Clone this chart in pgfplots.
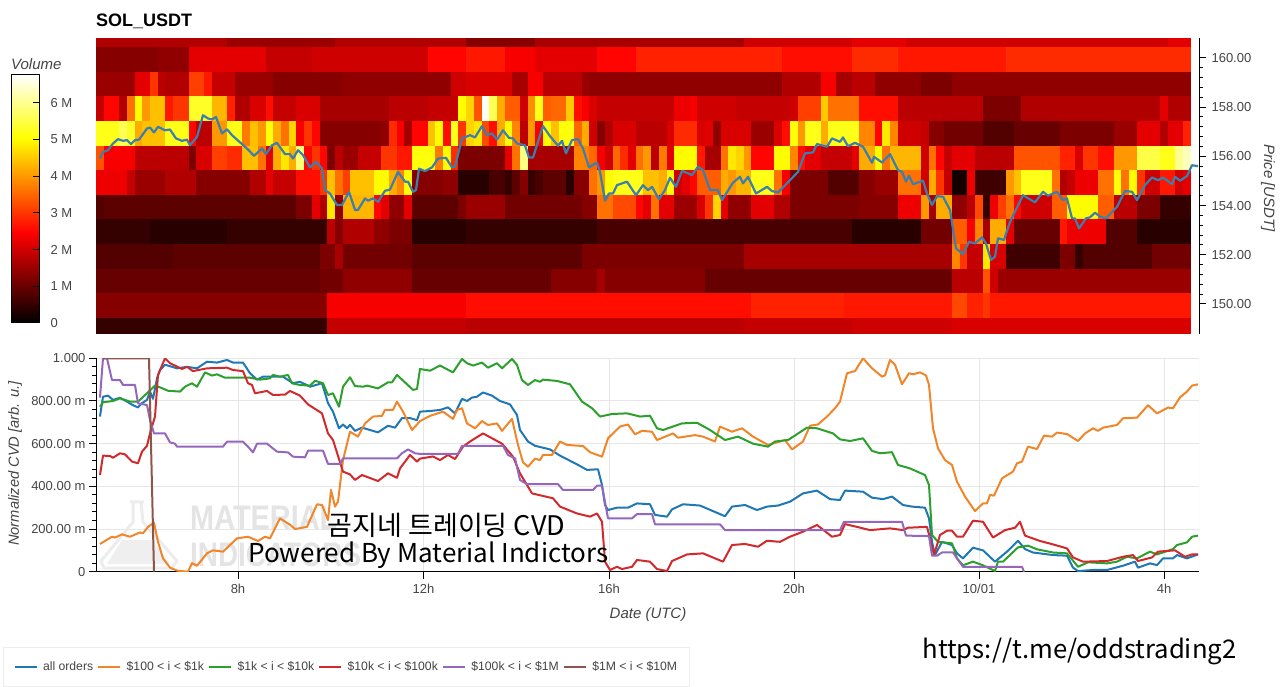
\documentclass[border=0pt]{standalone}
\usepackage{pgfplots}
\usepackage{pgfplotstable}
\pgfplotsset{compat=1.18}
\usepackage{fontspec}
\setmainfont{Liberation Sans}
\newfontfamily\kr{Noto Sans CJK KR}
\definecolor{tickgray}{HTML}{444444}
\definecolor{gridc}{HTML}{E6E6E6}
\definecolor{cblue}{HTML}{1F77B4}
\definecolor{corange}{HTML}{F0852A}
\definecolor{cgreen}{HTML}{2CA02C}
\definecolor{cred}{HTML}{D02A2C}
\definecolor{cpurple}{HTML}{9467BD}
\definecolor{cbrown}{HTML}{8C564B}
\definecolor{pricec}{HTML}{3C7FAE}
\definecolor{wm}{HTML}{E4E4E4}
\newcommand{\fsz}[1]{\fontsize{#1}{#1}\selectfont}
\pgfdeclareplotmark{cell}{%
  \pgfpathrectangle{\pgfpoint{0pt}{-\cellhh pt}}{\pgfpoint{\cellw pt}{2*\cellhh pt}}%
  \pgfusepathqfill}
\pgfplotstableread{
i w p v
0 17 160.62 17
17 14 160.62 15
31 17 160.62 17
48 9 160.62 13
57 27 160.62 16
84 14 160.62 20
98 7 160.62 22
105 34 160.62 20
139 3 160.62 22
0 8 159.93 13
8 4 159.93 14
12 10 159.93 22
22 6 159.93 19
28 15 159.93 20
43 5 159.93 25
48 5 159.93 27
53 4 159.93 24
57 8 159.93 22
65 5 159.93 25
70 19 159.93 28
89 9 159.93 26
98 6 159.93 29
104 14 159.93 27
118 24 159.93 29
0 5 158.93 15
5 2 158.93 22
7 1 158.93 30
8 1 158.93 18
9 3 158.93 17
12 2 158.93 31
14 1 158.93 27
15 3 158.93 19
18 5 158.93 15
23 9 158.93 13
32 14 158.93 14
46 2 158.93 20
48 6 158.93 21
54 2 158.93 16
56 2 158.93 24
58 5 158.93 18
63 1 158.93 15
64 25 158.93 14
89 5 158.93 17
94 2 158.93 24
96 2 158.93 16
98 3 158.93 18
101 6 158.93 14
107 4 158.93 12
111 31 158.93 14
0 1 157.93 19
1 2 157.93 25
3 1 157.93 17
4 1 157.93 36
5 1 157.93 50
6 1 157.93 40
7 2 157.93 44
9 1 157.93 27
10 2 157.93 30
12 3 157.93 53
15 2 157.93 43
17 1 157.93 28
18 2 157.93 17
20 2 157.93 21
22 1 157.93 26
23 3 157.93 19
26 3 157.93 21
29 9 157.93 16
38 5 157.93 18
43 4 157.93 19
47 1 157.93 50
48 1 157.93 46
49 1 157.93 33
50 1 157.93 67
51 1 157.93 56
52 1 157.93 42
53 2 157.93 34
55 1 157.93 20
56 1 157.93 39
57 1 157.93 52
58 1 157.93 34
59 2 157.93 35
61 1 157.93 45
62 1 157.93 26
63 1 157.93 24
64 1 157.93 21
65 10 157.93 19
75 2 157.93 23
77 1 157.93 24
78 5 157.93 20
83 7 157.93 19
90 1 157.93 20
91 3 157.93 31
94 1 157.93 45
95 4 157.93 36
99 5 157.93 26
104 11 157.93 18
115 5 157.93 12
120 18 157.93 17
138 1 157.93 22
139 3 157.93 17
0 3 156.93 52
3 1 156.93 56
4 1 156.93 53
5 1 156.93 42
6 3 156.93 44
9 3 156.93 52
12 1 156.93 25
13 2 156.93 18
15 2 156.93 40
17 2 156.93 52
19 1 156.93 37
20 1 156.93 44
21 1 156.93 40
22 1 156.93 51
23 1 156.93 42
24 1 156.93 36
25 1 156.93 46
26 1 156.93 24
27 1 156.93 30
28 1 156.93 25
29 8 156.93 13
37 1 156.93 14
38 1 156.93 29
39 1 156.93 24
40 1 156.93 16
41 2 156.93 25
43 1 156.93 44
44 1 156.93 50
45 1 156.93 26
46 1 156.93 52
47 1 156.93 30
48 1 156.93 46
49 1 156.93 48
50 1 156.93 32
51 1 156.93 26
52 1 156.93 42
53 1 156.93 50
54 1 156.93 38
55 1 156.93 18
56 1 156.93 40
57 1 156.93 24
58 1 156.93 50
59 1 156.93 44
60 2 156.93 51
62 1 156.93 35
63 1 156.93 42
64 1 156.93 20
65 1 156.93 13
66 1 156.93 17
67 3 156.93 21
70 4 156.93 18
74 1 156.93 21
75 3 156.93 29
78 1 156.93 21
79 1 156.93 22
80 1 156.93 14
81 4 156.93 21
85 3 156.93 15
88 1 156.93 21
89 1 156.93 26
90 1 156.93 51
91 1 156.93 40
92 2 156.93 52
94 1 156.93 42
95 4 156.93 52
99 2 156.93 38
101 1 156.93 25
102 1 156.93 48
103 1 156.93 38
104 3 156.93 20
107 1 156.93 19
108 2 156.93 13
110 5 156.93 11
115 4 156.93 8
119 6 156.93 10
125 7 156.93 12
132 3 156.93 15
135 3 156.93 22
138 1 156.93 17
139 2 156.93 22
141 1 156.93 28
0 1 155.93 33
1 4 155.93 24
5 7 155.93 18
12 1 155.93 12
13 2 155.93 21
15 2 155.93 31
17 2 155.93 29
19 2 155.93 44
21 1 155.93 36
22 1 155.93 22
23 1 155.93 42
24 1 155.93 48
25 1 155.93 42
26 1 155.93 58
27 1 155.93 25
28 1 155.93 30
29 1 155.93 25
30 1 155.93 12
31 1 155.93 18
32 2 155.93 15
34 3 155.93 19
37 2 155.93 30
39 2 155.93 27
41 3 155.93 51
44 1 155.93 37
45 1 155.93 50
46 1 155.93 29
47 6 155.93 12
53 1 155.93 22
54 1 155.93 36
55 1 155.93 59
56 6 155.93 16
62 2 155.93 38
64 1 155.93 35
65 1 155.93 24
66 1 155.93 20
67 1 155.93 35
68 1 155.93 29
69 1 155.93 22
70 1 155.93 36
71 1 155.93 40
72 1 155.93 18
73 1 155.93 37
74 1 155.93 22
75 3 155.93 50
78 1 155.93 27
79 2 155.93 16
81 1 155.93 36
82 1 155.93 48
83 1 155.93 46
84 1 155.93 40
85 3 155.93 25
88 2 155.93 50
90 1 155.93 38
91 1 155.93 26
92 2 155.93 22
94 4 155.93 19
98 1 155.93 22
99 2 155.93 42
101 1 155.93 50
102 1 155.93 36
103 4 155.93 43
107 1 155.93 20
108 1 155.93 36
109 1 155.93 25
110 1 155.93 19
111 3 155.93 22
114 5 155.93 18
119 6 155.93 33
125 2 155.93 28
127 1 155.93 21
128 2 155.93 30
130 2 155.93 26
132 3 155.93 40
135 3 155.93 55
138 2 155.93 52
140 1 155.93 60
141 1 155.93 63
0 4 154.93 23
4 1 154.93 19
5 4 154.93 15
9 4 154.93 17
13 7 154.93 13
20 2 154.93 17
22 1 154.93 22
23 3 154.93 19
26 3 154.93 26
29 1 154.93 30
30 1 154.93 44
31 1 154.93 36
32 1 154.93 31
33 3 154.93 44
36 2 154.93 50
38 1 154.93 42
39 1 154.93 38
40 1 154.93 50
41 4 154.93 13
45 2 154.93 14
47 4 154.93 4
51 2 154.93 7
53 1 154.93 5
54 1 154.93 9
55 1 154.93 13
56 1 154.93 5
57 1 154.93 7
58 3 154.93 9
61 1 154.93 4
62 2 154.93 13
64 1 154.93 36
65 1 154.93 40
66 1 154.93 50
67 4 154.93 52
71 2 154.93 44
73 1 154.93 42
74 1 154.93 50
75 1 154.93 20
76 1 154.93 22
77 1 154.93 25
78 3 154.93 34
81 1 154.93 42
82 1 154.93 40
83 2 154.93 43
85 3 154.93 52
88 1 154.93 36
89 1 154.93 24
90 5 154.93 12
95 4 154.93 8
99 2 154.93 13
101 3 154.93 15
104 3 154.93 36
107 1 154.93 20
108 1 154.93 42
109 1 154.93 30
110 1 154.93 19
111 2 154.93 2
113 1 154.93 23
114 4 154.93 6
118 1 154.93 40
119 1 154.93 44
120 4 154.93 52
124 1 154.93 36
125 1 154.93 17
126 1 154.93 19
127 3 154.93 23
130 2 154.93 36
132 1 154.93 51
133 1 154.93 36
134 1 154.93 50
135 1 154.93 30
136 2 154.93 20
138 2 154.93 27
140 1 154.93 20
141 1 154.93 22
0 1 153.93 8
1 25 153.93 9
26 2 153.93 12
28 1 153.93 22
29 1 153.93 17
30 1 153.93 48
31 1 153.93 14
32 4 153.93 43
36 1 153.93 25
37 1 153.93 22
38 2 153.93 14
40 1 153.93 22
41 6 153.93 9
47 1 153.93 12
48 5 153.93 15
53 10 153.93 11
63 2 153.93 13
65 2 153.93 36
67 3 153.93 32
70 1 153.93 25
71 1 153.93 22
72 1 153.93 36
73 2 153.93 22
75 3 153.93 15
78 1 153.93 21
79 1 153.93 30
80 1 153.93 46
81 1 153.93 22
82 3 153.93 14
85 3 153.93 22
88 2 153.93 17
90 9 153.93 12
99 5 153.93 13
104 3 153.93 23
107 1 153.93 40
108 1 153.93 16
109 2 153.93 42
111 2 153.93 14
113 1 153.93 18
114 1 153.93 32
115 1 153.93 5
116 1 153.93 23
117 1 153.93 31
118 1 153.93 36
119 1 153.93 25
120 4 153.93 20
124 2 153.93 34
126 4 153.93 50
130 2 153.93 34
132 3 153.93 18
135 3 153.93 12
138 4 153.93 5
0 7 152.93 5
7 10 152.93 4
17 13 152.93 5
30 1 152.93 18
31 1 152.93 13
32 4 152.93 17
36 2 152.93 14
38 3 152.93 12
41 7 152.93 4
48 17 152.93 5
65 33 152.93 7
98 9 152.93 4
107 4 152.93 11
111 2 152.93 34
113 1 152.93 24
114 1 152.93 38
115 1 152.93 16
116 2 152.93 42
118 1 152.93 22
119 6 152.93 10
125 1 152.93 27
126 5 152.93 23
131 4 152.93 8
135 7 152.93 4
0 10 151.93 8
10 19 151.93 9
29 2 151.93 12
31 1 151.93 16
32 9 151.93 11
41 22 151.93 9
63 21 151.93 12
84 27 151.93 16
111 1 151.93 38
112 1 151.93 30
113 2 151.93 19
115 1 151.93 48
116 2 151.93 21
118 7 151.93 6
125 2 151.93 12
127 1 151.93 5
128 9 151.93 8
137 5 151.93 11
0 29 150.93 10
29 3 150.93 11
32 9 150.93 14
41 18 150.93 10
59 6 150.93 13
65 1 150.93 16
66 13 150.93 13
79 32 150.93 10
111 4 150.93 18
115 1 150.93 33
116 1 150.93 20
117 25 150.93 15
0 30 149.93 13
30 18 149.93 24
48 37 149.93 26
85 12 149.93 28
97 14 149.93 27
111 2 149.93 32
113 2 149.93 28
115 1 149.93 30
116 26 149.93 27
0 30 149.105 5
30 18 149.105 19
48 36 149.105 18
84 14 149.105 19
98 13 149.105 20
111 31 149.105 21
}\heatcells
\begin{document}
\begin{tikzpicture}[line join=round]
\path[use as bounding box] (0,0) rectangle (1280pt,686pt);
% watermark
\begin{scope}
\draw[wm!70!white,line width=3pt] (130pt,184pt) -- (144pt,184pt) (133pt,184pt) -- (133pt,164pt) -- (101pt,125pt) -- (104pt,118pt) -- (172pt,118pt) -- (177pt,125pt) -- (143pt,164pt) -- (141pt,184pt);
\fill[wm!60!white] (122pt,146pt) -- (152pt,146pt) -- (170pt,122pt) -- (107pt,122pt) -- cycle;
\node[anchor=west,text=wm,inner sep=0pt,font=\bfseries\fsz{34}] at (190pt,168pt) {\scalebox{0.85}[1]{MATERIAL}};
\node[anchor=west,text=wm,inner sep=0pt,font=\bfseries\fsz{34}] at (190pt,131pt) {\scalebox{0.82}[1]{INDICATORS}};
\end{scope}
% heatmap
\begin{axis}[
  at={(96pt,352pt)},anchor=south west,scale only axis,width=1103pt,height=296pt,
  xmin=96,xmax=1199,ymin=148.78,ymax=160.81,
  axis x line=none,axis y line*=right,axis line style={-,black,line width=1pt},
  xtick=\empty,ytick={150,152,...,160},
  yticklabels={150.00,152.00,154.00,156.00,158.00,160.00},
  minor y tick num=4,tick align=outside,tickwidth=7pt,subtickwidth=4pt,
  every tick/.append style={black,line width=1pt},
  yticklabel style={font=\fsz{13},text=tickgray,xshift=2pt},
  colormap={hotx}{rgb(0pt)=(0,0,0) rgb(365pt)=(1,0,0) rgb(746pt)=(1,1,0) rgb(1000pt)=(1,1,1)},
  point meta min=0,point meta max=67.5,
]
\addplot[scatter,only marks,mark=cell,scatter src=explicit,
  visualization depends on={7.71*\thisrow{w}+0.6 \as \cellw},
  visualization depends on={ifthenelse(\thisrow{p}>160.5,4.75,ifthenelse(\thisrow{p}<149.5,8.1,12.4)) \as \cellhh}]
  table[x expr=96+7.71*\thisrow{i},y=p,meta=v]{\heatcells};
\end{axis}
% price line above the heatmap
\begin{axis}[
  at={(96pt,352pt)},anchor=south west,scale only axis,width=1103pt,height=296pt,
  xmin=96,xmax=1199,ymin=148.78,ymax=160.81,hide axis,
]
\addplot[pricec,line width=2.2pt,no marks] coordinates {
(100,155.91)(103,156.18)(108,156.25)(113,156.52)(118,156.70)(123,156.63)(127,156.66)(131,156.50)(135,156.66)(139,156.68)(147,157.13)(150,157.17)(154,156.97)(158,157.20)(165,157.06)(170,157.09)(176,156.73)(182,156.63)(187,156.68)(190,156.45)(197,156.79)(203,157.67)(208,157.54)(212,157.50)(216,157.6)(222,156.93)(227,157.1)(232,156.86)(248,156.28)(254,156.02)(262,156.32)(266,156.09)(272,156.45)(277,156.55)(285,156.09)(290,156.09)(293,155.91)(298,156.25)(303,156.05)(310,155.55)(316,155.78)(322,155.51)(325,154.63)(330,154.49)(337,154.02)(342,154.02)(349,154.56)(355,153.82)(358,153.82)(365,154.29)(368,154.2)(373,154.29)(378,154.15)(385,154.6)(390,154.65)(398,155.37)(405,154.97)(408,154.97)(413,154.56)(416,154.63)(419,155.5)(425,155.4)(432,155.55)(438,155.91)(446,155.94)(452,155.55)(455,155.58)(462,156.73)(470,156.86)
(475,156.77)(482,157.23)(487,156.86)(492,156.93)(497,156.68)(503,157.06)(509,156.75)(513,156.73)(517,156.52)(525,156.45)(529,155.95)(533,155.95)(543,157.23)(550,156.82)(558,156.43)(562,156.63)(566,156.12)(572,156.66)(578,156.7)(583,156.32)(589,155.55)(597,155.75)(600,155.37)(605,154.2)(609,154.49)(613,154.49)(617,154.83)(627,154.97)(636,154.42)(643,154.83)(648,154.63)(652,154.76)(659,154.26)(665,154.63)(670,155.13)(676,154.76)(682,155.41)(692,155.24)(698,155.58)(703,155.44)(710,154.63)(718,154.63)(722,154.22)(733,154.93)(740,155.17)(743,154.9)(748,155.17)(756,154.49)(767,154.76)(772,154.59)(778,154.53)(790,155.03)(798,155.37)(805,156.12)(813,156.16)(817,156.5)(827,156.39)(832,156.73)(840,156.59)(843,156.77)(848,156.41)
(855,156.55)(863,156.39)(872,155.74)(874,155.98)(882,155.75)(890,156.09)(898,155.44)(902,155.37)(906,154.97)(909,155.21)(913,154.87)(923,155.01)(927,154.49)(932,154.02)(937,154.38)(943,154.36)(950,153.82)(956,152.26)(963,152.02)(969,152.53)(975,152.46)(982,152.71)(986,152.46)(991,151.79)(995,151.92)(998,152.67)(1004,152.6)(1010,153.34)(1023,154.42)(1035,154.13)(1043,154.56)(1048,154.4)(1057,154.56)(1063,154.22)(1067,154.29)(1072,153.48)(1075,153.48)(1079,153.07)(1086,153.48)(1090,153.52)(1095,153.71)(1100,153.55)(1106,153.48)(1117,153.95)(1125,154.59)(1132,154.56)(1137,154.22)(1145,154.83)(1152,155.14)(1158,155.03)(1163,155.14)(1172,154.87)(1175,155.17)(1180,155.01)(1187,155.2)(1192,155.64)(1198,155.6)};
\end{axis}
% colorbar
\begin{axis}[
  at={(11pt,363pt)},anchor=south west,scale only axis,width=28pt,height=248pt,
  xmin=0,xmax=1,ymin=0,ymax=67.5,xtick=\empty,axis on top,
  ytick={0,10,...,60},yticklabels={0,1 M,2 M,3 M,4 M,5 M,6 M},
  ytick pos=right,yticklabel pos=right,tick align=inside,tickwidth=6pt,
  every tick/.append style={black,line width=1pt},axis line style={black,line width=1pt},
  yticklabel style={font=\fsz{13},text=tickgray,anchor=west,xshift=8pt},
  colormap={hotx}{rgb(0pt)=(0,0,0) rgb(365pt)=(1,0,0) rgb(746pt)=(1,1,0) rgb(1000pt)=(1,1,1)},
  point meta min=0,point meta max=67.5,
]
\addplot[surf,shader=interp,mesh/rows=2,point meta=y] coordinates {(0,0)(1,0)(0,67.5)(1,67.5)};
\end{axis}
% CVD
\begin{axis}[
  at={(96pt,114.3pt)},anchor=south west,scale only axis,width=1103pt,height=213.4pt,
  xmin=96,xmax=1199,ymin=0,ymax=1,
  axis x line*=bottom,axis y line*=left,axis line style={-,black,line width=1pt},
  xtick={238,423.5,609,794,979,1164},xticklabels={8h,12h,16h,20h,10/01,4h},
  ytick={0,0.2,0.4,0.6,0.8,1},yticklabels={0,200.00 m,400.00 m,600.00 m,800.00 m,1.000},
  minor y tick num=4,tick align=outside,tickwidth=7pt,subtickwidth=4pt,
  every tick/.append style={black,line width=1pt},
  grid=major,grid style={gridc,line width=1pt},
  tick label style={font=\fsz{13},text=tickgray},
  xticklabel style={yshift=-2pt},
  legend columns=6,
  legend cell align=left,
  legend image code/.code={\draw[#1] (0pt,0pt) -- (22pt,0pt);},
  legend style={at={(axis description cs:-0.0843,-0.5406)},anchor=south west,
    draw=gridc!70!white,line width=1pt,font=\fsz{12.2},text=tickgray,inner xsep=10pt,inner ysep=12.5pt,
    /tikz/every odd column/.append style={column sep=3.5pt},
    /tikz/every even column/.append style={column sep=2pt}},
]
\addplot[cblue,line width=2pt,no marks] coordinates {
(100,.727)(103,.82)(108,.825)(113,.805)(120,.815)(127,.797)(133,.78)(138,.77)(142,.79)(147,.805)(150,.844)(153,.81)(157,.906)(160,.945)(165,.97)(177,.953)(187,.96)(197,.953)(207,.984)(217,.98)(227,.992)(233,.98)(243,.98)(250,.93)(257,.90)(263,.914)(273,.914)(283,.914)(293,.883)(300,.89)(310,.867)(322,.883)(328,.79)(333,.75)(339,.672)(343,.69)(347,.672)(350,.688)(355,.66)(362,.675)(370,.664)(378,.653)(388,.684)(395,.675)(402,.72)(410,.72)(417,.71)(420,.75)
(430,.753)(440,.758)(448,.77)(455,.742)(462,.81)(467,.80)(472,.816)(477,.82)(483,.84)(492,.825)(500,.80)(510,.784)(517,.734)(520,.664)(528,.61)(535,.59)(550,.573)(560,.544)(577,.503)(587,.477)(598,.48)(602,.406)(605,.3125)(608,.289)(617,.30)(628,.30)(637,.32)(650,.316)(655,.266)(667,.258)(672,.292)(683,.316)(700,.31)(713,.284)(725,.26)(732,.305)(745,.3125)(757,.289)(767,.305)(778,.31)(790,.328)(803,.367)(817,.38)(830,.34)(840,.336)
(845,.38)(863,.375)(872,.347)(883,.34)(892,.352)(903,.3125)(912,.305)(925,.30)(929,.25)(932,.14)(935,.078)(942,.14)(952,.125)(957,.086)(963,.0625)(973,.1125)(983,.10)(995,.047)(1007,.094)(1018,.145)(1025,.106)(1033,.09)(1053,.078)(1067,.075)(1073,.019)(1078,.003)(1093,.008)(1107,.008)(1123,.028)(1135,.047)(1138,.019)(1150,.039)(1157,.031)(1163,.0625)(1173,.0625)(1177,.078)(1187,.0625)(1198,.081)};
\addlegendentry{all orders}
\addplot[corange,line width=2pt,no marks] coordinates {
(100,.13)(112,.164)(115,.16)(122,.175)(130,.164)(140,.184)(143,.18)(148,.21)(154,.23)(158,.14)(163,.0625)(170,.019)(177,.005)(188,0)(192,.04)(197,.028)(207,.086)(213,.10)(223,.094)(237,.156)(248,.164)(258,.144)(265,.164)(270,.156)(280,.25)(290,.22)(295,.2)(307,.21)(317,.316)(322,.3125)(328,.242)(331,.383)(335,.305)(338,.328)(343,.523)(350,.656)(358,.633)(365,.695)(373,.727)(382,.73)(385,.758)(393,.758)(397,.797)(403,.75)(412,.664)(418,.695)
(420,.706)(430,.73)(443,.75)(453,.716)(457,.758)(462,.766)(467,.695)(475,.672)(482,.706)(488,.6875)(497,.695)(502,.66)(512,.716)(518,.594)(523,.5125)(528,.492)(535,.53)(540,.523)(543,.547)(552,.547)(560,.61)(567,.594)(583,.589)(590,.56)(602,.539)(608,.625)(620,.68)(628,.69)(635,.644)(642,.66)(652,.656)(657,.617)(673,.648)(678,.628)(695,.64)(703,.633)(715,.61)(720,.68)(732,.656)(742,.672)(753,.633)(768,.594)(785,.617)(792,.573)(803,.61)(810,.684)(818,.69)(827,.727)(835,.766)(840,.797)
(847,.93)(855,.94)(863,1.0)(872,.953)(882,.914)(885,.92)(890,.992)(895,.97)(902,.878)(909,.93)(913,.925)(920,.934)(926,.92)(929,.875)(933,.672)(938,.578)(945,.523)(952,.5)(957,.422)(965,.352)(975,.284)(983,.32)(987,.32)(990,.36)(994,.356)(1002,.4375)(1013,.469)(1017,.508)(1022,.516)(1028,.586)(1037,.575)(1044,.6375)(1052,.633)(1057,.652)(1067,.645)(1078,.6125)(1085,.648)(1093,.672)(1098,.66)(1103,.675)(1117,.6875)(1123,.719)(1137,.722)(1148,.78)(1157,.742)(1168,.769)(1173,.766)(1180,.817)(1187,.844)(1192,.872)(1198,.878)};
\addlegendentry{\$100 < i < \$1k}
\addplot[cgreen,line width=2pt,no marks] coordinates {
(100,.773)(103,.794)(113,.80)(120,.8125)(130,.797)(138,.797)(147,.836)(155,.872)(160,.864)(168,.848)(180,.844)(185,.867)(192,.883)(197,.867)(205,.934)(212,.919)(217,.925)(225,.909)(233,.909)(250,.909)(260,.90)(270,.906)(273,.922)(280,.914)(288,.922)(292,.883)(300,.875)(310,.872)(315,.895)(323,.883)(328,.828)(333,.836)(339,.773)(343,.867)(350,.911)(355,.87)(363,.867)(367,.872)(378,.859)(388,.8875)(392,.8875)(397,.922)(413,.852)(417,.856)(420,.95)
(430,.942)(440,.966)(453,.934)(462,.997)(467,.977)(473,.966)(482,.98)(488,.956)(497,.977)(502,.953)(512,.997)(517,.969)(522,.898)(528,.875)(535,.898)(540,.89)(543,.90)(557,.894)(570,.878)(582,.797)(592,.766)(600,.727)(612,.739)(627,.742)(640,.727)(650,.731)(657,.672)(663,.664)(682,.695)(697,.698)(710,.664)(725,.617)(738,.633)(753,.60)(768,.586)(775,.61)(788,.617)(807,.675)(817,.672)(833,.648)(840,.62)
(850,.6125)(863,.625)(872,.566)(880,.555)(892,.56)(898,.5)(910,.484)(925,.453)(929,.406)(932,.172)(938,.14)(952,.133)(957,.0625)(963,.03)(973,.047)(983,.03)(995,.003)(998,.047)(1003,.047)(1018,.114)(1028,.122)(1037,.105)(1053,.09)(1067,.086)(1078,.023)(1088,.044)(1107,.039)(1117,.047)(1127,.07)(1137,.0625)(1150,.094)(1157,.081)(1173,.106)(1177,.125)(1187,.1375)(1192,.164)(1198,.169)};
\addlegendentry{\$1k < i < \$10k}
\addplot[cred,line width=2pt,no marks] coordinates {
(100,.453)(103,.544)(110,.542)(113,.534)(120,.555)(125,.55)(132,.516)(138,.508)(142,.5625)(147,.59)(150,.648)(155,.727)(158,.922)(165,1.0)(170,.977)(182,.95)(187,.96)(193,.94)(207,.953)(227,.956)(233,.945)(243,.94)(248,.883)(252,.875)(255,.836)(267,.847)(273,.828)(285,.83)(290,.847)(300,.825)(308,.784)(322,.742)(328,.648)(333,.617)(343,.469)(350,.456)(355,.43)(362,.453)(378,.425)(388,.461)(397,.44)(400,.484)(410,.547)(417,.516)(420,.53)
(433,.54)(440,.523)(448,.547)(455,.528)(463,.586)(470,.61)(483,.648)(502,.60)(513,.539)(520,.461)(532,.367)(553,.344)(560,.305)(577,.273)(590,.258)(597,.273)(602,.234)(605,.047)(610,.008)(617,.023)(622,.0125)(632,.023)(637,.055)(650,.047)(657,.0125)(667,.003)(672,.05)(687,.081)(703,.086)(723,.047)(732,.125)(745,.13)(758,.117)(767,.145)(780,.14)(790,.164)(803,.1875)(817,.219)(832,.164)(840,.172)
(845,.223)(857,.21)(870,.195)(890,.203)(903,.195)(908,.206)(917,.208)(927,.21)(930,.156)(934,.078)(940,.172)(947,.192)(952,.192)(957,.164)(963,.164)(973,.239)(983,.234)(993,.16)(1005,.195)(1015,.206)(1020,.234)(1025,.169)(1040,.144)(1053,.128)(1067,.109)(1073,.067)(1083,.047)(1107,.05)(1123,.07)(1133,.078)(1138,.05)(1152,.067)(1158,.094)(1175,.10)(1185,.07)(1192,.081)(1198,.081)};
\addlegendentry{\$10k < i < \$100k}
\addplot[cpurple,line width=2pt,no marks] coordinates {
(100,.816)(103,1.0)(107,1.0)(112,.898)(120,.898)(123,.875)(135,.875)(138,.789)(147,.781)(150,.711)(154,.648)(165,.648)(170,.606)(175,.60)(177,.586)(223,.586)(227,.609)(243,.609)(248,.586)(253,.559)(257,.60)(267,.60)(277,.5625)(288,.559)(293,.539)(305,.536)(308,.567)(323,.567)(328,.505)(340,.505)(343,.531)(397,.531)(402,.555)(408,.573)(415,.555)(420,.552)
(458,.552)(462,.59)(503,.59)(508,.547)(515,.531)(520,.43)(527,.41)(558,.41)(563,.383)(593,.383)(597,.403)(602,.403)(608,.25)(632,.25)(637,.27)(652,.27)(655,.222)(720,.222)(725,.195)(840,.195)
(844,.234)(902,.234)(906,.169)(929,.167)(932,.075)(937,.075)(942,.09)(953,.09)(957,.0625)(963,.023)(1022,.023)(1024,0)};
\addlegendentry{\$100k < i < \$1M}
\addplot[cbrown,line width=2pt,no marks] coordinates {(103,1)(149,1)(150,.8)(154,0)};
\addlegendentry{\$1M < i < \$10M}
\draw[gridc,line width=1pt] (rel axis cs:1,0) -- (rel axis cs:1,1);
\end{axis}
% texts
\node[anchor=base west,inner sep=0pt,font=\bfseries\fsz{18}] at (96pt,659pt) {SOL\_USDT};
\node[anchor=base west,inner sep=0pt,font=\itshape\fsz{15},text=tickgray] at (11pt,616pt) {Volume};
\node[rotate=-90,inner sep=0pt,font=\itshape\fsz{15},text=tickgray] at (1268pt,498pt) {Price [USDT]};
\node[rotate=90,inner sep=0pt,font=\itshape\fsz{14.7},text=tickgray] at (15pt,222.5pt) {Normalized CVD [arb. u.]};
\node[inner sep=0pt,font=\itshape\fsz{15},text=tickgray] at (648pt,71pt) {Date (UTC)};
\node[inner sep=0pt,font=\kr\fsz{27}] at (446.5pt,161pt) {곰지네 트레이딩 CVD};
\node[inner sep=0pt,font=\kr\fsz{26}] at (428.5pt,130.5pt) {Powered By Material Indictors};
\node[inner sep=0pt,font=\kr\fsz{25.7}] at (1079.5pt,34.5pt) {https://t.me/oddstrading2};
\end{tikzpicture}
\end{document}
